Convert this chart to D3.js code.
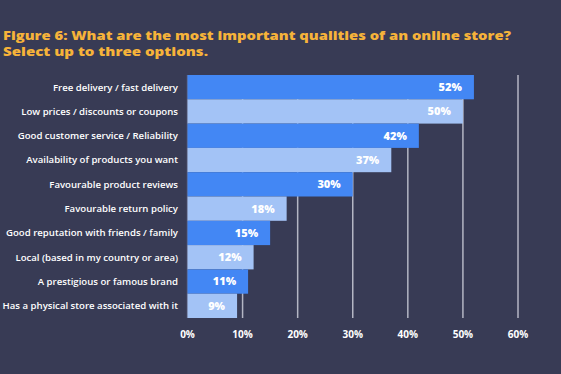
<!DOCTYPE html>
<html>
<head>
<meta charset="utf-8">
<script src="https://cdn.jsdelivr.net/npm/d3@7"></script>
<style>
  body { margin: 0; background: #383b55; }
  svg { display: block; }
</style>
</head>
<body>
<svg id="chart"></svg>
<script>
var categories = [
  "Free delivery / fast delivery",
  "Low prices / discounts or coupons",
  "Good customer service / Reliability",
  "Availability of products you want",
  "Favourable product reviews",
  "Favourable return policy",
  "Good reputation with friends / family",
  "Local (based in my country or area)",
  "A prestigious or famous brand",
  "Has a physical store associated with it"
];
var values = [52, 50, 42, 37, 30, 18, 15, 12, 11, 9];
var ticks = [0, 10, 20, 30, 40, 50, 60];

var width = 561, height = 374;
var svg = d3.select("#chart").attr("width", width).attr("height", height);

svg.append("rect").attr("width", width).attr("height", height).attr("fill", "#383b55");

// title
var title = svg.append("g")
  .style("font-family", "'Open Sans', sans-serif")
  .style("font-weight", 800)
  .style("font-size", "13px")
  .style("fill", "#f6b33a");
title.append("text").attr("x", 3).attr("y", 39.5)
  .attr("textLength", 508).attr("lengthAdjust", "spacingAndGlyphs")
  .text("Figure 6: What are the most important qualities of an online store?");
title.append("text").attr("x", 3).attr("y", 56)
  .attr("textLength", 205).attr("lengthAdjust", "spacingAndGlyphs")
  .text("Select up to three options.");

var x = d3.scaleLinear().domain([0, 60]).range([187.5, 518]);
var y = d3.scaleBand().domain(categories).range([75, 318]).padding(0);

// gridlines (behind bars)
svg.append("g").selectAll("line")
  .data(ticks)
  .enter().append("line")
  .attr("x1", function(d) { return x(d); })
  .attr("x2", function(d) { return x(d); })
  .attr("y1", 75)
  .attr("y2", 318)
  .attr("stroke", function(d) { return d == 0 ? "#5c5f78" : "#b4b6c4"; })
  .attr("stroke-width", 1.5);

// bars
svg.append("g").selectAll("rect")
  .data(values)
  .enter().append("rect")
  .attr("x", x(0))
  .attr("y", function(d, i) { return y(categories[i]); })
  .attr("width", function(d) { return x(d) - x(0); })
  .attr("height", y.bandwidth())
  .attr("fill", function(d, i) { return i % 2 == 0 ? "#4387f4" : "#a3c3f6"; });

// value labels
svg.append("g").selectAll("text")
  .data(values)
  .enter().append("text")
  .attr("x", function(d) { return x(d) - 12; })
  .attr("y", function(d, i) { return y(categories[i]) + y.bandwidth() / 2; })
  .attr("dy", "0.35em")
  .attr("text-anchor", "end")
  .style("font-family", "'Open Sans', sans-serif")
  .style("font-weight", 800)
  .style("font-size", "11px")
  .style("fill", "#ffffff")
  .text(function(d) { return d + "%"; });

// category labels
svg.append("g").selectAll("text")
  .data(categories)
  .enter().append("text")
  .attr("x", 178)
  .attr("y", function(d) { return y(d) + y.bandwidth() / 2; })
  .attr("dy", "0.35em")
  .attr("text-anchor", "end")
  .style("font-family", "'Open Sans', sans-serif")
  .style("font-weight", 600)
  .style("font-size", "9.6px")
  .style("fill", "#ffffff")
  .text(function(d) { return d; });

// x axis tick labels
svg.append("g").selectAll("text")
  .data(ticks)
  .enter().append("text")
  .attr("x", function(d) { return x(d); })
  .attr("y", 334)
  .attr("dy", "0.35em")
  .attr("text-anchor", "middle")
  .style("font-family", "'Open Sans', sans-serif")
  .style("font-weight", 700)
  .style("font-size", "10px")
  .style("fill", "#ffffff")
  .text(function(d) { return d + "%"; });
</script>
</body>
</html>
